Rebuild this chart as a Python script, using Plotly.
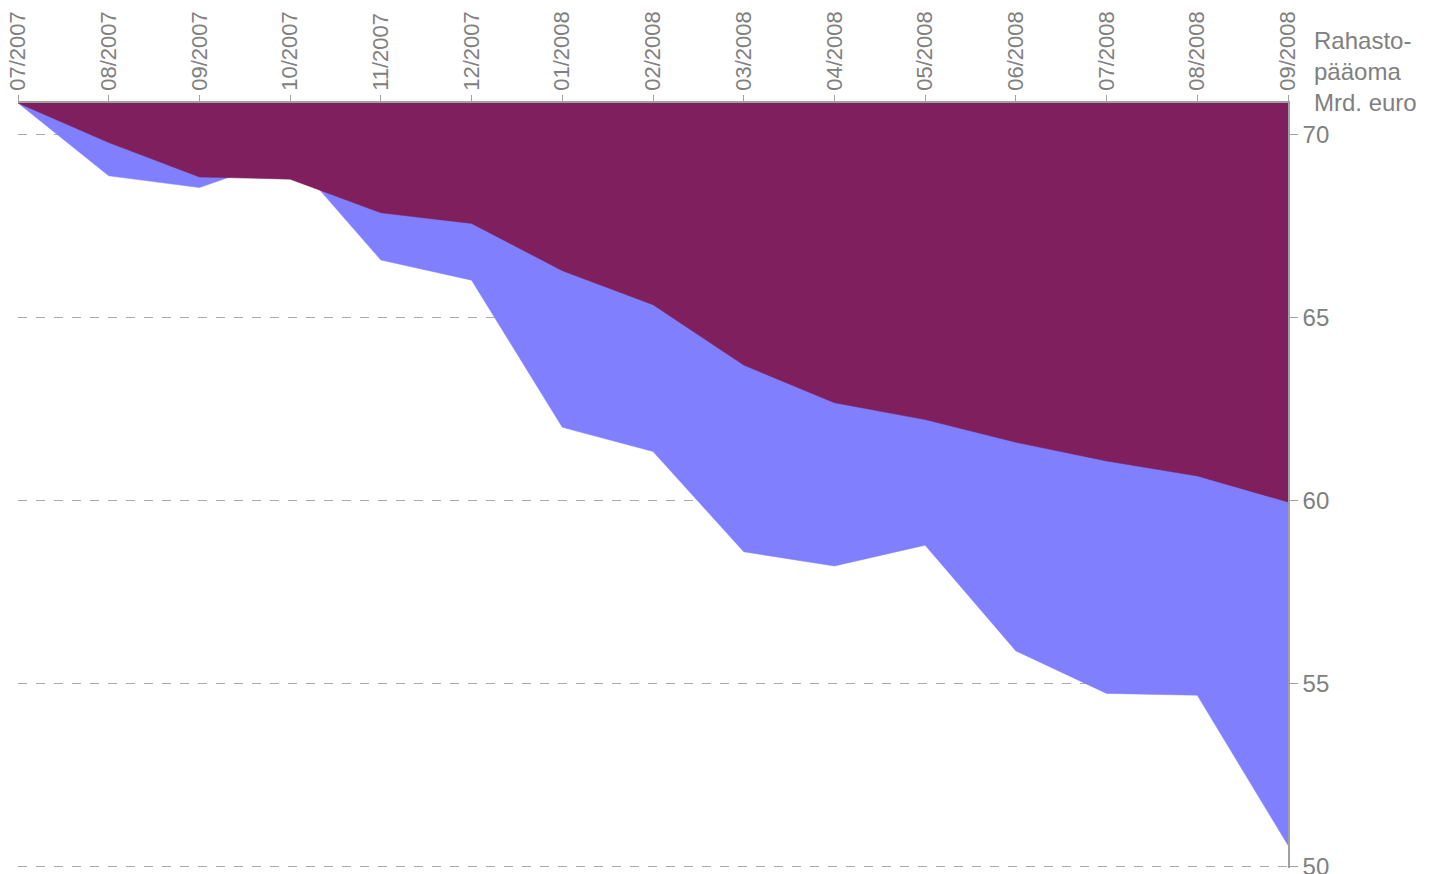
import plotly.graph_objects as go

months = ["07/2007", "08/2007", "09/2007", "10/2007", "11/2007", "12/2007",
          "01/2008", "02/2008", "03/2008", "04/2008", "05/2008", "06/2008",
          "07/2008", "08/2008", "09/2008"]
purple_vals = [70.85, 69.77, 68.83, 68.77, 67.85, 67.56, 66.27, 65.34,
               63.69, 62.66, 62.20, 61.58, 61.07, 60.66, 59.95]
blue_vals = [70.85, 68.86, 68.54, 69.40, 66.56, 66.01, 61.99, 61.33,
             58.59, 58.20, 58.77, 55.88, 54.72, 54.67, 50.57]
top_value = 70.85
y_ticks = [50, 55, 60, 65, 70]

PURPLE = "#7F1F5E"
BLUE = "#8080FF"
GRAY = "#808080"

xs = list(range(len(months)))
top = [top_value] * len(months)

fig = go.Figure()
fig.add_trace(go.Scatter(x=xs, y=top, mode="lines", line=dict(width=0),
                         showlegend=False, hoverinfo="skip"))
fig.add_trace(go.Scatter(x=xs, y=blue_vals, mode="lines", fill="tonexty",
                         fillcolor=BLUE, line=dict(width=0.5, color=BLUE),
                         showlegend=False))
fig.add_trace(go.Scatter(x=xs, y=top, mode="lines", line=dict(width=0),
                         showlegend=False, hoverinfo="skip"))
fig.add_trace(go.Scatter(x=xs, y=purple_vals, mode="lines", fill="tonexty",
                         fillcolor=PURPLE, line=dict(width=0.5, color=PURPLE),
                         showlegend=False))

# page body has an 8px margin, so the figure is offset by 8px
fig.update_layout(
    width=1437, height=866,
    margin=dict(l=10, r=157, t=95, b=6),
    paper_bgcolor="white", plot_bgcolor="white",
    font=dict(family="Liberation Sans, Arial, sans-serif", color=GRAY),
    xaxis=dict(
        side="top", range=[0, len(months) - 1], automargin=False,
        tickmode="array", tickvals=xs, ticktext=months, tickangle=-90,
        tickfont=dict(size=22, color=GRAY), ticklabeloverflow="allow",
        showline=True, linecolor="#A0A0A0", linewidth=1.5,
        ticks="outside", ticklen=6, tickcolor="#A0A0A0",
        showgrid=False, zeroline=False,
    ),
    yaxis=dict(
        side="right", range=[49.95, top_value], automargin=False,
        tickmode="array", tickvals=y_ticks,
        tickfont=dict(size=24, color=GRAY), ticklabeloverflow="allow",
        showline=True, linecolor="#A0A0A0", linewidth=1.5,
        ticks="outside", ticklen=8, tickcolor="#A0A0A0",
        showgrid=True, gridcolor="#AAAAAA", griddash="dash", gridwidth=1,
        zeroline=False,
    ),
    annotations=[dict(
        text="Rahasto-<br>pääoma<br>Mrd. euro",
        xref="paper", yref="paper", x=1.0, y=1.0,
        xanchor="left", yanchor="bottom", xshift=24, yshift=-15,
        align="left", showarrow=False,
        font=dict(size=24, color=GRAY),
    )],
)

fig.write_html("out.html")
